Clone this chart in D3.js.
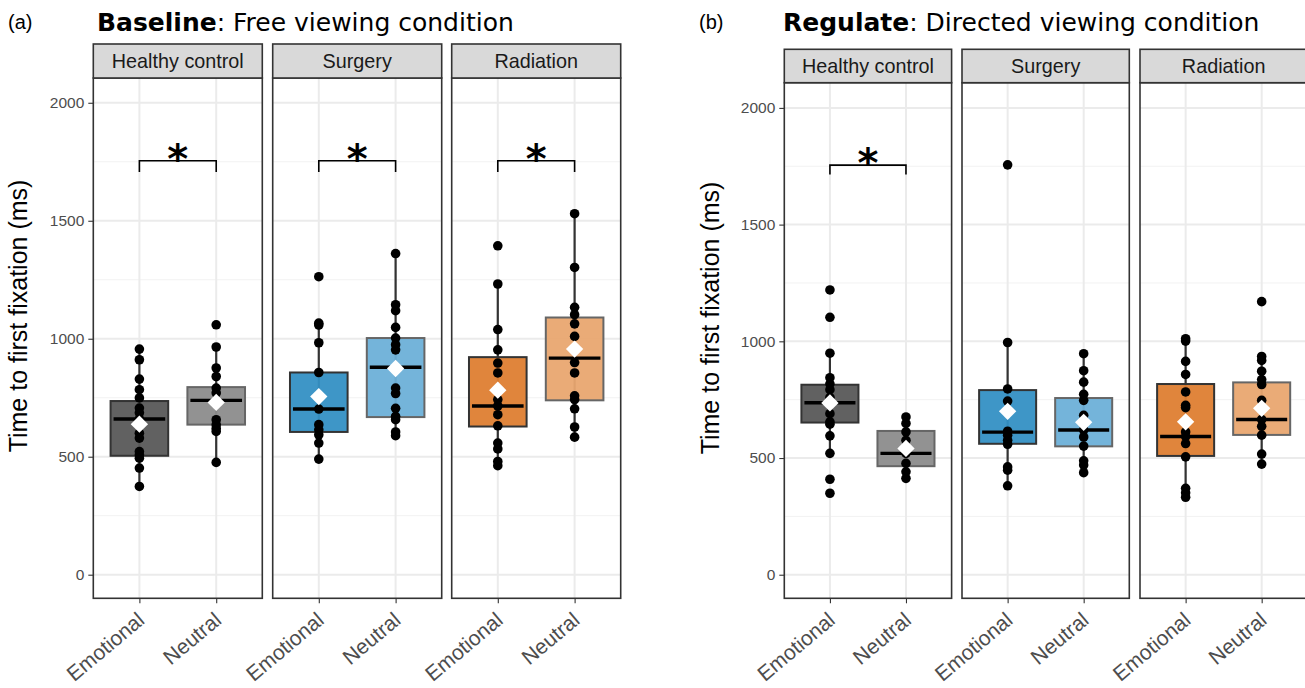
<!DOCTYPE html>
<html>
<head>
<meta charset="utf-8">
<script src="https://cdn.jsdelivr.net/npm/d3@7"></script>
<style>
  body { margin: 0; background: #fff; }
  text { font-family: "Liberation Sans", Arial, sans-serif; }
</style>
</head>
<body>
<script>
// --- data
const groups = ["Healthy control", "Surgery", "Radiation"];
const emotions = ["Emotional", "Neutral"];
const yTicks = [0, 500, 1000, 1500, 2000];
const yMinor = [250, 750, 1250, 1750];

// box stats per [group][emotion]: [q1, median, q3, whiskerLow, whiskerHigh, mean]
const baselineStats = [
  [[504, 660, 736, 374, 956, 638], [636, 739, 795, 476, 965, 730]],
  [[605, 702, 857, 490, 1066, 755], [668, 879, 1003, 589, 1361, 874]],
  [[628, 715, 922, 462, 1232, 782], [739, 918, 1090, 583, 1530, 956]]
];
const regulateStats = [
  [[652, 737, 814, 520, 949, 736], [465, 520, 616, 413, 676, 541]],
  [[561, 611, 791, 381, 995, 700], [550, 620, 757, 437, 947, 653]],
  [[509, 592, 817, 332, 1011, 655], [599, 665, 824, 474, 935, 713]]
];

// participant values per [group][emotion]
const baselinePoints = [
  [[956, 911, 829, 784, 749, 706, 686, 660, 600, 579, 522, 508, 494, 452, 374],
   [1059, 965, 876, 840, 791, 770, 657, 636, 620, 607, 476]],
  [[1263, 1066, 1058, 983, 857, 702, 636, 614, 593, 558, 490],
   [1361, 1144, 1119, 1048, 1003, 975, 953, 791, 768, 705, 671, 657, 605, 589]],
  [[1394, 1232, 1039, 953, 897, 855, 742, 715, 678, 631, 558, 533, 480, 462],
   [1530, 1302, 1133, 1102, 1063, 1010, 899, 855, 758, 742, 703, 626, 583]]
];
const regulatePoints = [
  [[1220, 1103, 949, 844, 818, 793, 760, 690, 655, 645, 595, 520, 409, 349],
   [676, 648, 612, 576, 541, 520, 477, 441, 413]],
  [[1756, 995, 796, 744, 615, 598, 576, 559, 462, 448, 381],
   [947, 874, 825, 773, 747, 683, 620, 590, 551, 488, 470, 437]],
  [[1011, 1001, 914, 858, 783, 726, 716, 612, 592, 562, 505, 370, 351, 332],
   [1170, 935, 918, 872, 836, 815, 747, 665, 636, 598, 517, 474]]
];

// significance brackets: [groupIndex, bracketHeight, tickLow]
const baselineSig = [[0, 1754, 1707], [1, 1754, 1707], [2, 1754, 1707]];
const regulateSig = [[0, 1755, 1715]];

const fills = [["#595959", "#8c8c8c"], ["#3490c4", "#6db0d8"], ["#de7e32", "#e9a770"]];

// --- layout
const panels = [
  { tag: "(a)", bold: "Baseline", rest: ": Free viewing condition",
    tagX: 8, titleX: 97, lefts: [93.3, 272.7, 451.7], w: 169,
    stripTop: 44, top: 78, bottom: 598.3, dom: [-100, 2105], yTitleX: 27, yTitleY: 316,
    stats: baselineStats, points: baselinePoints, sig: baselineSig },
  { tag: "(b)", bold: "Regulate", rest: ": Directed viewing condition",
    tagX: 699, titleX: 783, lefts: [784.3, 962, 1140], w: 167.3,
    stripTop: 49.3, top: 82.7, bottom: 598.3, dom: [-101, 2108], yTitleX: 719, yTitleY: 318,
    stats: regulateStats, points: regulatePoints, sig: regulateSig }
];

const svg = d3.select("body").append("svg")
  .attr("width", 1305).attr("height", 688);

panels.forEach(p => {
  const y = d3.scaleLinear().domain(p.dom).range([p.bottom, p.top]);
  const g = svg.append("g");

  // title
  g.append("text").attr("x", p.tagX).attr("y", 29)
    .attr("font-size", 20).attr("fill", "#000").text(p.tag);
  const t = g.append("text").attr("x", p.titleX).attr("y", 31)
    .style("font-family", "DejaVu Sans")
    .attr("font-size", 25).attr("fill", "#000");
  t.append("tspan").attr("font-weight", "bold").text(p.bold);
  t.append("tspan").text(p.rest);

  // y axis title
  g.append("text")
    .attr("transform", `translate(${p.yTitleX},${p.yTitleY}) rotate(-90)`)
    .attr("text-anchor", "middle")
    .attr("font-size", 25).attr("fill", "#000")
    .text("Time to first fixation (ms)");

  // y axis on first facet
  const yAxis = g.append("g")
    .attr("transform", `translate(${p.lefts[0]},0)`)
    .call(d3.axisLeft(y).tickValues(yTicks).tickFormat(d3.format("d")).tickSize(5).tickPadding(4))
    .attr("font-size", 15.5).attr("font-family", null);
  yAxis.select(".domain").remove();
  yAxis.selectAll("line").attr("stroke", "#333").attr("stroke-width", 1.1);
  yAxis.selectAll("text").attr("fill", "#4d4d4d");

  groups.forEach((grp, gi) => {
    const left = p.lefts[gi], right = left + p.w;
    const x = d3.scalePoint().domain(emotions).range([left, right]).padding(0.6);
    const bw = x.step() * 0.75;
    const f = g.append("g");

    // grid
    f.selectAll(".minor").data(yMinor).join("line")
      .attr("x1", left).attr("x2", right)
      .attr("y1", d => y(d)).attr("y2", d => y(d))
      .attr("stroke", "#f2f2f2").attr("stroke-width", 1);
    f.selectAll(".major").data(yTicks).join("line")
      .attr("x1", left).attr("x2", right)
      .attr("y1", d => y(d)).attr("y2", d => y(d))
      .attr("stroke", "#ebebeb").attr("stroke-width", 2);
    f.selectAll(".vgrid").data(emotions).join("line")
      .attr("x1", d => x(d)).attr("x2", d => x(d))
      .attr("y1", p.top).attr("y2", p.bottom)
      .attr("stroke", "#ebebeb").attr("stroke-width", 2);

    // boxes
    emotions.forEach((em, ei) => {
      const s = p.stats[gi][ei];
      const cx = x(em);
      const bc = ei === 0 ? "#333" : "#666";
      f.append("line").attr("x1", cx).attr("x2", cx)
        .attr("y1", y(s[3])).attr("y2", y(s[4]))
        .attr("stroke", "#333").attr("stroke-width", 2.2);
      f.append("rect")
        .attr("x", cx - bw / 2).attr("width", bw)
        .attr("y", y(s[2])).attr("height", y(s[0]) - y(s[2]))
        .attr("fill", fills[gi][ei]).attr("fill-opacity", 0.95)
        .attr("stroke", bc).attr("stroke-width", 2);
      f.append("line").attr("x1", cx - bw / 2 + 3).attr("x2", cx + bw / 2 - 3)
        .attr("y1", y(s[1])).attr("y2", y(s[1]))
        .attr("stroke", "#000").attr("stroke-width", 3.4);
      f.selectAll(null).data(p.points[gi][ei]).join("circle")
        .attr("cx", cx).attr("cy", d => y(d)).attr("r", 4.8)
        .attr("fill", "#000");
      f.append("path")
        .attr("d", d3.symbol(d3.symbolSquare, 150)())
        .attr("transform", `translate(${cx},${y(s[5])}) rotate(45)`)
        .attr("fill", "#fff");
    });

    // significance
    p.sig.filter(d => d[0] === gi).forEach(d => {
      const x1 = x(emotions[0]), x2 = x(emotions[1]);
      f.append("path")
        .attr("d", `M${x1},${y(d[2])}V${y(d[1])}H${x2}V${y(d[2])}`)
        .attr("fill", "none").attr("stroke", "#000").attr("stroke-width", 1.6);
      f.append("text").attr("x", (x1 + x2) / 2).attr("y", y(d[1]) + 12)
        .attr("text-anchor", "middle")
        .style("font-family", "DejaVu Sans").attr("font-size", 40)
        .attr("font-weight", "bold")
        .text("*");
    });

    // panel border
    f.append("rect").attr("x", left).attr("y", p.top)
      .attr("width", p.w).attr("height", p.bottom - p.top)
      .attr("fill", "none").attr("stroke", "#333").attr("stroke-width", 1.6);

    // strip
    f.append("rect").attr("x", left).attr("y", p.stripTop)
      .attr("width", p.w).attr("height", p.top - p.stripTop)
      .attr("fill", "#d9d9d9").attr("stroke", "#333").attr("stroke-width", 1.6);
    f.append("text").attr("x", (left + right) / 2).attr("y", (p.stripTop + p.top) / 2 + 7)
      .attr("text-anchor", "middle").attr("font-size", 19.8).attr("fill", "#1a1a1a")
      .text(grp);

    // x axis
    const xa = f.append("g").attr("transform", `translate(0,${p.bottom})`)
      .call(d3.axisBottom(x).tickSize(5).tickPadding(3))
      .attr("font-size", 21).attr("font-family", null);
    xa.select(".domain").remove();
    xa.selectAll("line").attr("stroke", "#333").attr("stroke-width", 1.1);
    xa.selectAll("text")
      .attr("fill", "#4d4d4d")
      .attr("text-anchor", "end")
      .attr("dy", null).attr("y", 0)
      .attr("transform", "translate(6,24) rotate(-40)");
  });
});
</script>
</body>
</html>
